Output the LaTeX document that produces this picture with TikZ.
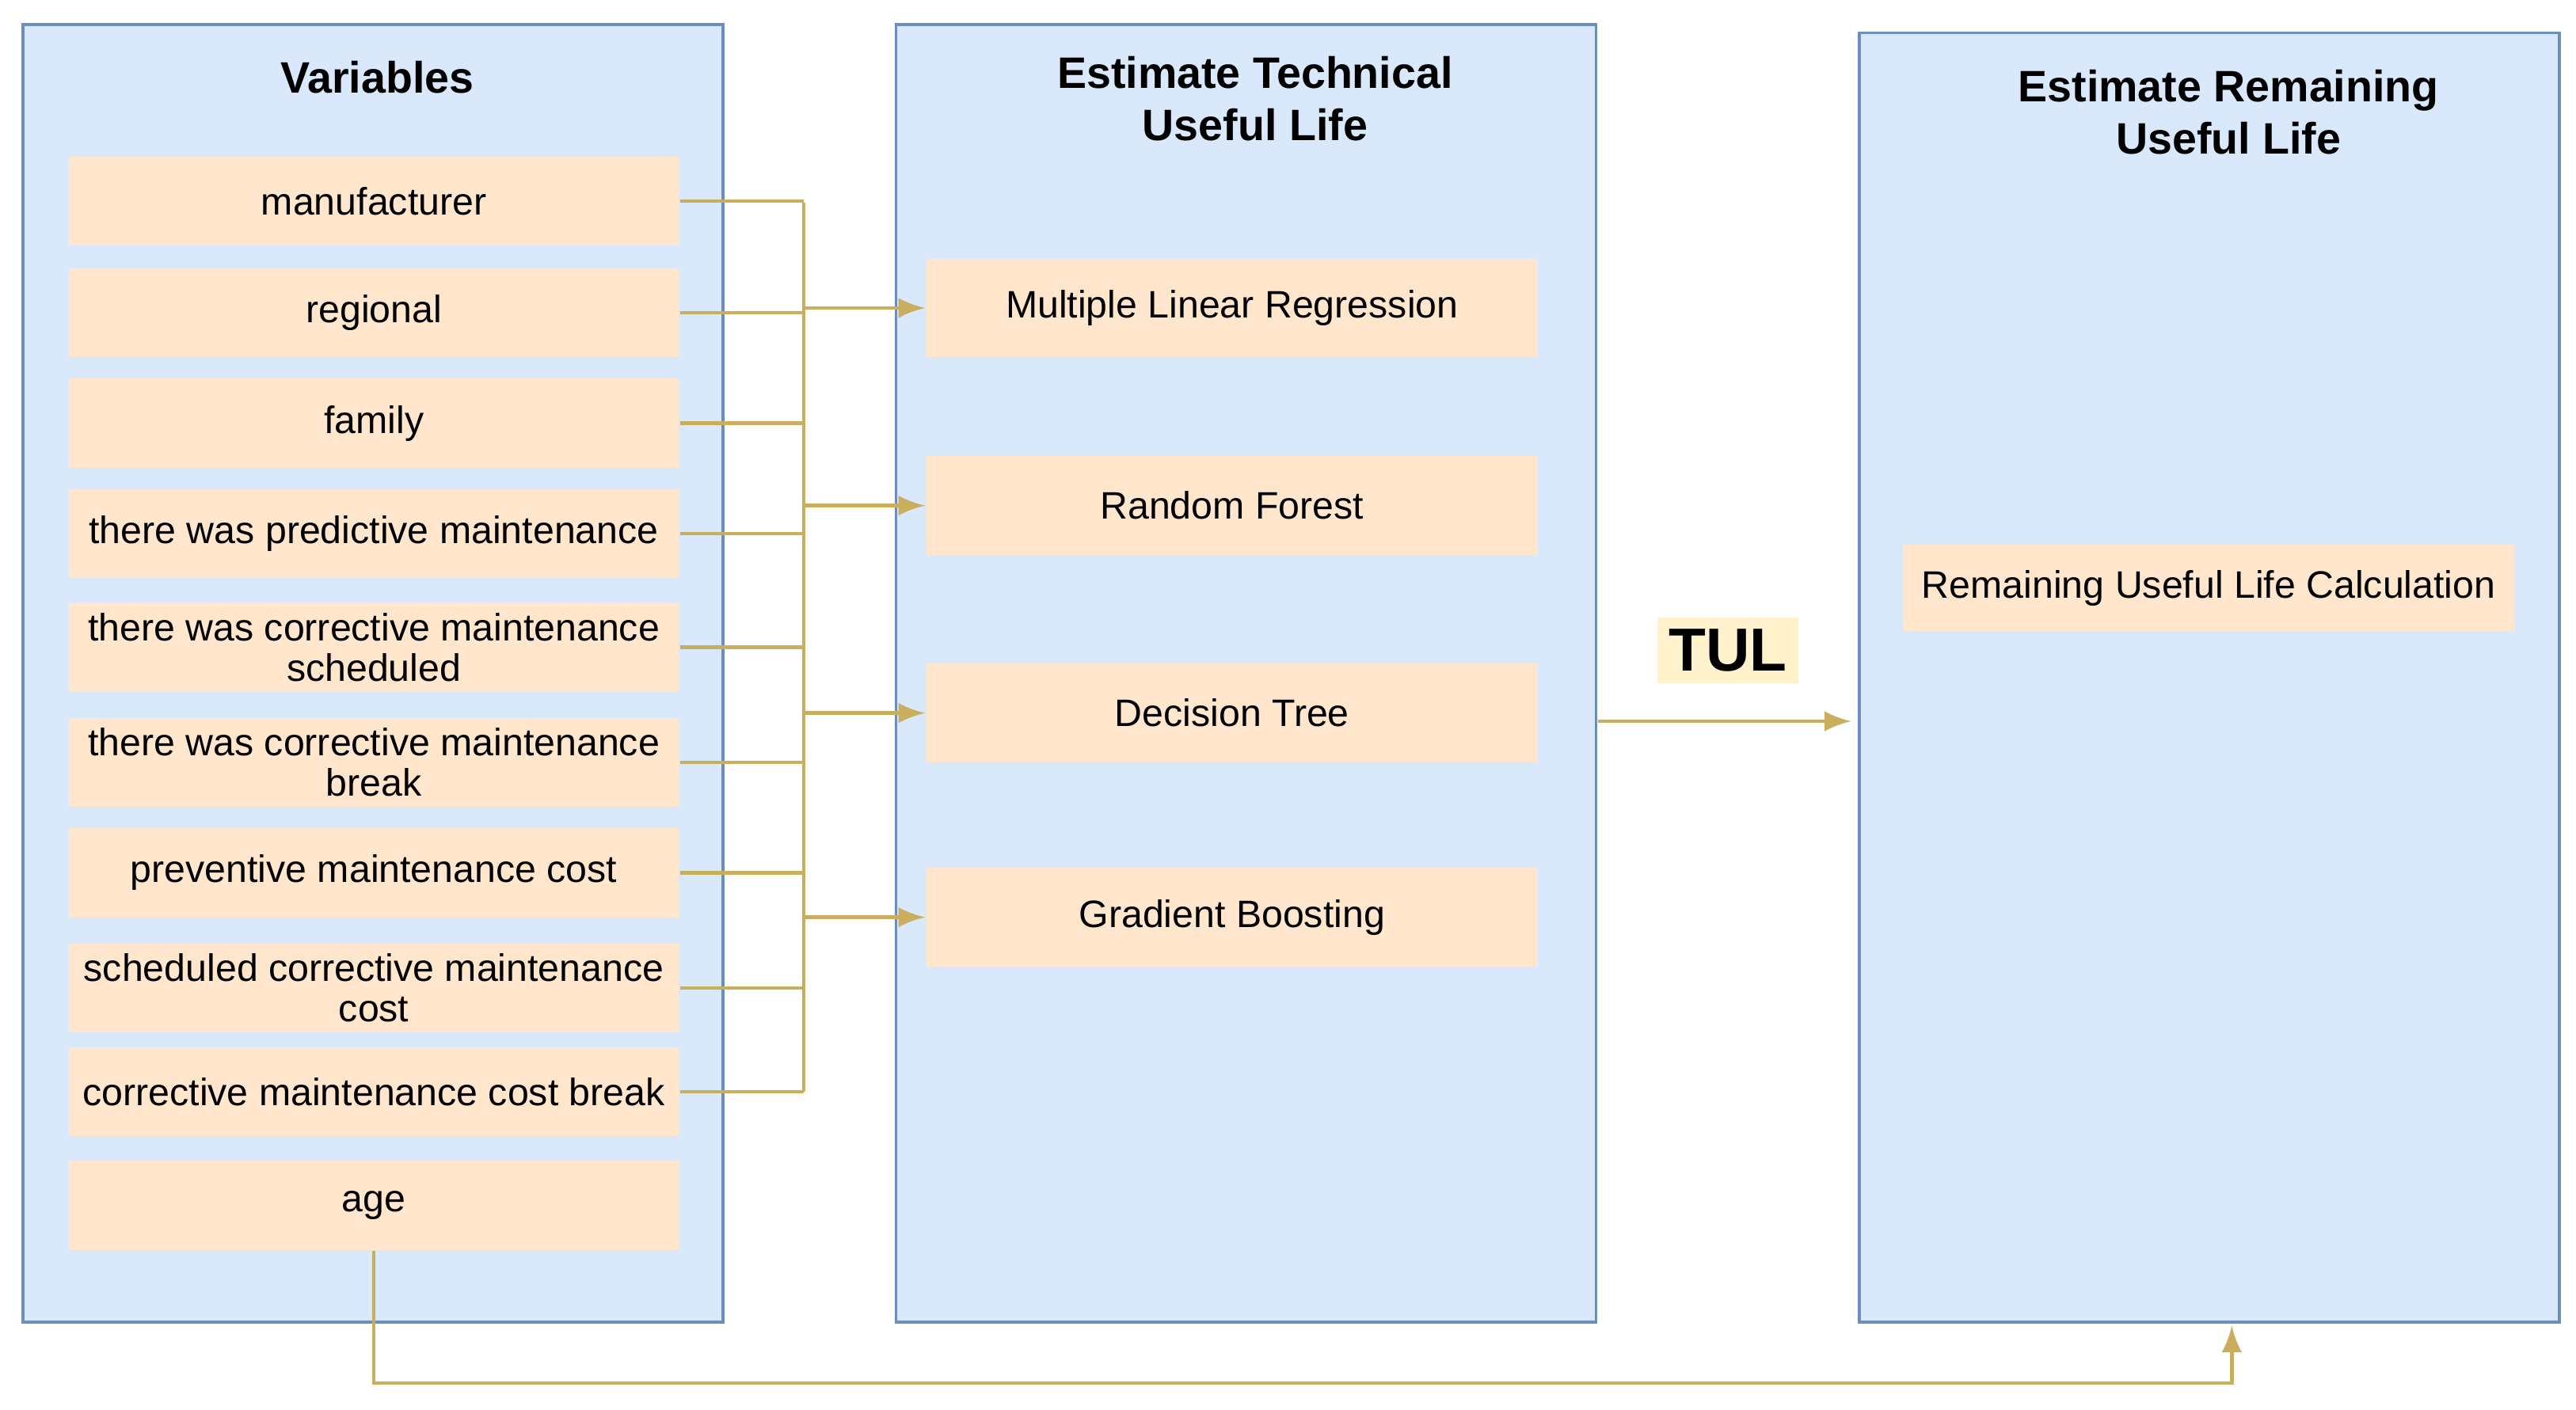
\documentclass[tikz,border=0pt]{standalone}
\usepackage{fontspec}
\setmainfont{Liberation Sans}
\usetikzlibrary{positioning}
\definecolor{panelfill}{HTML}{DAE8FC}
\definecolor{paneldraw}{HTML}{6C8EBF}
\definecolor{boxfill}{HTML}{FFE6CC}
\definecolor{linkcol}{HTML}{C9AE5D}
\definecolor{tulfill}{HTML}{FFF2CC}
\begin{document}
\begin{tikzpicture}[x=0.01cm, y=-0.01cm,
                    panel/.style={draw=paneldraw, fill=panelfill, line width=0.5pt},
                    var/.style={fill=boxfill, minimum width=3.7cm, minimum height=0.54cm, inner sep=0pt, align=center, font=\fontsize{6.6}{7}\selectfont},
                    method/.style={fill=boxfill, minimum width=3.71cm, minimum height=0.6cm, inner sep=0pt, font=\fontsize{6.6}{7}\selectfont},
                    title/.style={align=center, font=\bfseries\fontsize{7.6}{9}\selectfont},
                    link/.style={draw=linkcol, line width=0.6pt},
                    tip/.style={link, -latex},
                ]
                \useasboundingbox (0,0) rectangle (1564,856);
                % panels
                \draw[panel] (14,15) rectangle (439,803);
                \draw[panel] (544,15) rectangle (969,803);
                \draw[panel] (1129,20) rectangle (1554,803);
                \node[title] (tvar) at (229,47) {Variables};
                \node[title] (ttul) at (762,60) {Estimate Technical\\Useful Life};
                \node[title] (trul) at (1353,68) {Estimate Remaining\\Useful Life};
                % variables
                \node[var] (manu) at (227,122) {manufacturer};
                \node[var] (reg) at (227,190) {regional};
                \node[var] (fam) at (227,257) {family};
                \node[var] (pred) at (227,324) {there was predictive maintenance};
                \node[var] (cms) at (227,393) {there was corrective maintenance\\scheduled};
                \node[var] (cmb) at (227,463) {there was corrective maintenance\\break};
                \node[var] (pmc) at (227,530) {preventive maintenance cost};
                \node[var] (scm) at (227,600) {scheduled corrective maintenance\\cost};
                \node[var] (cmcb) at (227,663) {corrective maintenance cost break};
                \node[var] (age) at (227,732) {age};
                % methods
                \node[method] (mlr) at (748,187) {Multiple Linear Regression};
                \node[method] (rf) at (748,307) {Random Forest};
                \node[method] (dt) at (748,433) {Decision Tree};
                \node[method] (gb) at (748,557) {Gradient Boosting};
                \node[method, minimum height=0.52cm] (rul) at (1341,357) {Remaining Useful Life Calculation};
                % bus
                \coordinate (bustop) at (488,123);
                \coordinate (busbot) at (488,663);
                \draw[link] (bustop) -- (busbot);
                \foreach \v in {manu,reg,fam,pred,cms,cmb,pmc,scm,cmcb}
                    \draw[link] (\v.east) -- (\v.east -| bustop);
                \foreach \m in {mlr,rf,dt,gb}
                    \draw[tip] (\m.west -| bustop) -- (\m.west);
                % TUL
                \coordinate (tulfrom) at (970,438);
                \coordinate (tulto) at (1124,438);
                \draw[tip] (tulfrom) -- (tulto);
                \node[fill=tulfill, font=\bfseries\fontsize{10.5}{12}\selectfont, inner sep=2pt] (tul) at (1049,395) {TUL};
                % age
                \coordinate (rulin) at (1355,805);
                \draw[tip] (age.south) |- (228,840) -| (rulin);
                \end{tikzpicture}
\end{document}
